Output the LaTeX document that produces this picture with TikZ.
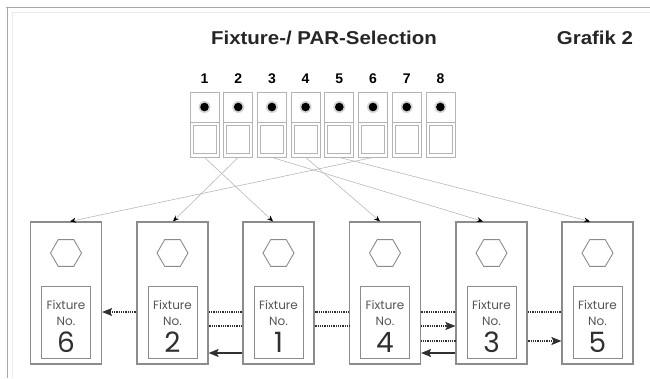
\documentclass[tikz,border=0pt]{standalone}
\usepackage{graphicx}
\usepackage{fontspec}
\setmainfont{Liberation Sans}
\newfontfamily\fixfont{Poppins}
\usetikzlibrary{arrows.meta,shapes.geometric}
\definecolor{frameg}{HTML}{A8A8A8}
\definecolor{btng}{HTML}{B4B4B4}
\definecolor{boxg}{HTML}{8C8C8C}
\definecolor{wireg}{HTML}{B8B8B8}
\definecolor{txtg}{HTML}{555555}
\definecolor{haloc}{HTML}{D4D4D4}
\definecolor{darkl}{HTML}{303030}
\begin{document}
\begin{tikzpicture}[x=1pt,y=-1pt,
  frame/.style={draw=frameg, line width=1pt},
  btnbox/.style={draw=btng, line width=0.8pt, minimum width=29pt, minimum height=65pt, inner sep=0pt},
  btnline/.style={draw=btng, line width=0.8pt},
  halo/.style={fill=haloc},
  numlbl/.style={font=\bfseries\fontsize{14}{14}\selectfont, anchor=base, inner sep=0pt},
  fixbox/.style={draw=boxg, line width=1.2pt, minimum width=71pt, minimum height=142pt, inner sep=0pt, fill=white},
  hexa/.style={draw=boxg, line width=0.9pt, regular polygon, regular polygon sides=6, minimum size=31pt, inner sep=0pt},
  inbox/.style={draw=boxg, line width=1pt, minimum width=49pt, minimum height=72pt, inner sep=0pt},
  fixtxt/.style={font=\fixfont\fontsize{12}{12}\selectfont, text=txtg, anchor=base, inner sep=0pt},
  fixnum/.style={font=\fixfont\fontsize{28}{28}\selectfont, text=darkl, anchor=base, inner sep=0pt},
  wire/.style={draw=wireg, line width=0.6pt, -{Stealth[length=6pt,width=5pt,color=black]}},
  dots/.style={draw=darkl, line width=1.3pt, dash pattern=on 1pt off 0.8pt},
  dotarrow/.style={dots, -{Stealth[length=10pt,width=8pt,inset=2pt,color=darkl]}},
  solidarrow/.style={draw=darkl, line width=1.4pt, -{Stealth[length=10pt,width=8pt,inset=2pt]}},
  title/.style={font=\bfseries\fontsize{18.6}{18.6}\selectfont, text=black!85, anchor=base, inner sep=0pt}
]
\useasboundingbox (0,0) rectangle (650,378);
% frame
\draw[frame] (6,7) -- (650,7);
\draw[frame] (7,7) -- (7,378);
\draw[draw=black!8, line width=1pt] (12,12) -- (650,12);
\draw[draw=black!8, line width=1pt] (12,12) -- (12,378);
% titles
\node[title] (ttl) at (324,44) {\scalebox{1.1}[1]{Fixture-/ PAR-Selection}};
\node[title] (graf) at (595,44) {\scalebox{1.1}[1]{Grafik 2}};
% buttons
\foreach \i in {1,...,8} {
  \pgfmathsetmacro\cx{204.5+(\i-1)*33.7}
  \node[btnbox] (b\i) at (\cx,124.5) {};
  \draw[btnline] (\cx-14.5,122) -- (\cx+14.5,122);
  \draw[btnline] (\cx-11.5,125) rectangle (\cx+11.5,153);
  \fill[halo] (\cx,107) circle[radius=6pt];
  \fill[black] (\cx,107) circle[radius=4.3pt];
  \node[numlbl] (n\i) at (\cx,83) {\i};
}
% fixtures
\foreach \cx/\n in {66/6, 172.5/2, 278.5/1, 385/4, 491.5/3, 597.5/5} {
  \node[fixbox] (f\n) at (\cx,293) {};
  \node[hexa] (f\n-hex) at (\cx,253) {};
  \node[inbox] (f\n-in) at (\cx,322) {};
  \node[fixtxt] (f\n-t1) at (\cx,309.3) {Fixture};
  \node[fixtxt] (f\n-t2) at (\cx,325) {No.};
  \node[fixnum] (f\n-t3) at (\cx,352.7) {\n};
}
% wires from buttons to fixtures
\draw[wire] (b1.south) -- ([xshift=-5.5pt]f1.north);
\draw[wire] (b2.south) -- ([xshift=0.5pt]f2.north);
\draw[wire] (b3.south) -- ([xshift=-8.5pt]f3.north);
\draw[wire] (b4.south) -- ([xshift=-5pt]f4.north);
\draw[wire] (b5.south) -- ([xshift=-7.5pt]f5.north);
\draw[wire] (b6.south) -- ([xshift=4pt]f6.north);
% line at y=312
\draw[dots] ([yshift=-19pt]f5.west) -- ([yshift=-19pt]f3.east);
\draw[dots] ([yshift=-19pt]f3.west) -- ([yshift=-19pt]f4.east);
\draw[dots] ([yshift=-19pt]f4.west) -- ([yshift=-19pt]f1.east);
\draw[dots] ([yshift=-19pt]f1.west) -- ([yshift=-19pt]f2.east);
\draw[dotarrow] ([yshift=-19pt]f2.west) -- ([yshift=-19pt]f6.east);
% line at y=326
\draw[dots] ([yshift=-33pt]f2.east) -- ([yshift=-33pt]f1.west);
\draw[dots] ([yshift=-33pt]f1.east) -- ([yshift=-33pt]f4.west);
\draw[dotarrow] ([yshift=-33pt]f4.east) -- ([yshift=-33pt]f3.west);
% line at y=341
\draw[dots] ([yshift=-48pt]f4.east) -- ([yshift=-48pt]f3.west);
\draw[dotarrow] ([yshift=-48pt]f3.east) -- ([yshift=-48pt]f5.west);
% solid arrows at y=353
\draw[solidarrow] ([yshift=-60pt]f1.west) -- ([yshift=-60pt]f2.east);
\draw[solidarrow] ([yshift=-60pt]f3.west) -- ([yshift=-60pt]f4.east);
\end{tikzpicture}
\end{document}
